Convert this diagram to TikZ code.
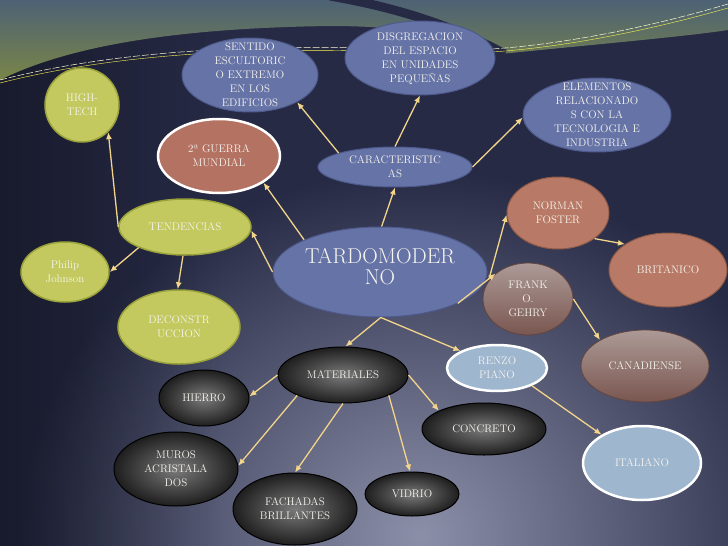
\documentclass[tikz,border=0pt]{standalone}
\usetikzlibrary{shapes.geometric,arrows.meta,fadings}
\definecolor{bgdark}{HTML}{262A45}
\definecolor{bglight}{HTML}{8C8FA8}
\definecolor{topblue}{HTML}{4D6275}
\definecolor{topolive}{HTML}{7A8548}
\definecolor{arrc}{HTML}{F2D48A}
\definecolor{gfill}{HTML}{C3C95E}
\definecolor{gdraw}{HTML}{9AA23C}
\definecolor{bfill}{HTML}{6673A6}
\definecolor{bdraw}{HTML}{4E5A8C}
\definecolor{rfill}{HTML}{B47262}
\definecolor{nfill}{HTML}{B87A66}
\definecolor{ndraw}{HTML}{8E5A48}
\definecolor{ftop}{HTML}{AC9A96}
\definecolor{fbot}{HTML}{7A5650}
\definecolor{lbfill}{HTML}{9FB6CF}
\definecolor{kin}{HTML}{7A7A7A}
\definecolor{kout}{HTML}{1E1E1E}
\definecolor{txt}{HTML}{F6F4EE}
\newcommand\ntx[1]{\makebox[0pt]{\smash{\raisebox{-3pt}{\begin{tabular}{@{}c@{}}#1\end{tabular}}}}}
\tikzset{
 el/.style={ellipse, inner sep=0pt, text=txt, font=\fontsize{11}{14}\selectfont},
 gr/.style={el, fill=gfill, draw=gdraw, line width=1.5pt},
 bl/.style={el, fill=bfill, draw=bdraw, line width=1pt},
 rw/.style={el, fill=rfill, draw=white, line width=2.5pt},
 br/.style={el, fill=nfill, draw=ndraw, line width=1pt},
 fg/.style={el, top color=ftop, bottom color=fbot, draw=fbot!80!black, line width=0.8pt},
 lb/.style={el, fill=lbfill, draw=white, line width=2.5pt},
 bk/.style={el, inner color=kin, outer color=kout, draw=black, line width=1pt},
 arr/.style={draw=arrc, line width=1.3pt, -{Latex[length=7pt,width=6pt]}},
}
\begin{document}
\begin{tikzpicture}[x=1pt,y=-1pt]
\useasboundingbox (0,0) rectangle (728,546);
% background
\begin{scope}
\clip (0,0) rectangle (728,546);
\fill[bgdark] (0,0) rectangle (728,546);
\shade[inner color=bglight, outer color=bgdark] (20,170) rectangle (820,900);
\fill[black, opacity=0.35, path fading=east] (0,0) rectangle (220,546);
\shade[top color=topblue, bottom color=topolive] (0,0) -- (0,80) .. controls (70,45) and (180,28) .. (330,26) .. controls (420,26) and (470,40) .. (500,54) .. controls (600,44) and (690,36) .. (728,30) -- (728,0) -- cycle;
\draw[bgdark, line width=9pt] (330,-4) .. controls (410,10) and (460,30) .. (505,54);
\draw[white!85!yellow, line width=0.5pt, dash pattern=on 7pt off 2pt] (0,80) .. controls (110,52) and (250,42) .. (420,50) .. controls (520,55) and (640,30) .. (728,4);
\draw[yellow!70!white, line width=0.4pt] (0,83) .. controls (110,55) and (250,45) .. (420,53) .. controls (520,58) and (640,33) .. (728,8);
\end{scope}
% nodes
\node[gr, minimum width=74pt, minimum height=74pt] (ht) at (82,105) {\ntx{HIGH-\\TECH}};
\node[bl, minimum width=136pt, minimum height=74pt] (sent) at (250,75) {\ntx{SENTIDO\\ESCULTORIC\\O EXTREMO\\EN LOS\\EDIFICIOS}};
\node[bl, minimum width=150pt, minimum height=74pt] (disg) at (420,58) {\ntx{DISGREGACION\\DEL ESPACIO\\EN UNIDADES\\PEQUEÑAS}};
\node[bl, minimum width=148pt, minimum height=74pt] (elem) at (597,115) {\ntx{ELEMENTOS\\RELACIONADO\\S CON LA\\TECNOLOGIA E\\INDUSTRIA}};
\node[rw, minimum width=122pt, minimum height=74pt] (guerra) at (219,156) {\ntx{2ª GUERRA\\MUNDIAL}};
\node[bl, minimum width=154pt, minimum height=40pt] (carac) at (395,167) {\ntx{CARACTERISTIC\\AS}};
\node[gr, minimum width=132pt, minimum height=56pt] (tend) at (185,227) {\ntx{TENDENCIAS}};
\node[gr, minimum width=88pt, minimum height=60pt] (phil) at (65,272) {\ntx{Philip\\Johnson}};
\node[gr, minimum width=122pt, minimum height=74pt] (decon) at (179,327) {\ntx{DECONSTR\\UCCION}};
\node[bl, minimum width=214pt, minimum height=90pt, font=\fontsize{21.5}{21}\selectfont] (tardo) at (380,272) {\ntx{TARDOMODER\\NO}};
\node[br, minimum width=102pt, minimum height=72pt] (norman) at (558,213) {\ntx{NORMAN\\FOSTER}};
\node[br, minimum width=118pt, minimum height=74pt] (brit) at (668,270) {\ntx{BRITANICO}};
\node[fg, minimum width=90pt, minimum height=72pt] (frank) at (528,299) {\ntx{FRANK\\O.\\GEHRY}};
\node[bk, minimum width=130pt, minimum height=56pt] (mat) at (343,375) {\ntx{MATERIALES}};
\node[lb, minimum width=100pt, minimum height=46pt] (renzo) at (497,368) {\ntx{RENZO\\PIANO}};
\node[fg, minimum width=128pt, minimum height=72pt] (can) at (645,366) {\ntx{CANADIENSE}};
\node[bk, minimum width=90pt, minimum height=56pt] (hierro) at (204,398) {\ntx{HIERRO}};
\node[bk, minimum width=124pt, minimum height=52pt] (concr) at (484,429) {\ntx{CONCRETO}};
\node[bk, minimum width=124pt, minimum height=74pt] (muros) at (176,469) {\ntx{MUROS\\ACRISTALA\\DOS}};
\node[bk, minimum width=124pt, minimum height=72pt] (fach) at (295,509) {\ntx{FACHADAS\\BRILLANTES}};
\node[bk, minimum width=94pt, minimum height=44pt] (vidrio) at (412,494) {\ntx{VIDRIO}};
\node[lb, minimum width=118pt, minimum height=74pt] (ital) at (642,463) {\ntx{ITALIANO}};
% connectors
\draw[arr] (tardo.157) -- (guerra.-31);
\draw[arr] (tardo.180) -- (tend.-3);
\draw[arr] (tardo.88) -- (carac.-90);
\draw[arr] (carac.166) -- (sent.-30);
\draw[arr] (carac.90) -- (disg.-90);
\draw[arr] (carac.0) -- (elem.182);
\draw[arr] (tend.180) -- (ht.-46);
\draw[arr] (tend.204) -- (phil.0);
\draw[arr] (tend.-94) -- (decon.92);
\coordinate (bnf) at (489,279);
\draw[arr] (tardo.-22) -- (frank.142);
\draw[arr] (bnf) -- (norman.182);
\draw[arr] (tardo.-89) -- (mat.85);
\draw[arr] (tardo.-89) -- (renzo.155);
\draw[arr] (norman.-35) -- (brit.149);
\draw[arr] (frank.0) -- (can.150);
\draw[arr] (renzo.-27) -- (ital.145);
\draw[arr] (mat.180) -- (hierro.2);
\draw[arr] (mat.204) -- (muros.3);
\draw[arr] (mat.-90) -- (fach.90);
\draw[arr] (mat.-24) -- (vidrio.95);
\draw[arr] (mat.0) -- (concr.158);
\end{tikzpicture}
\end{document}
